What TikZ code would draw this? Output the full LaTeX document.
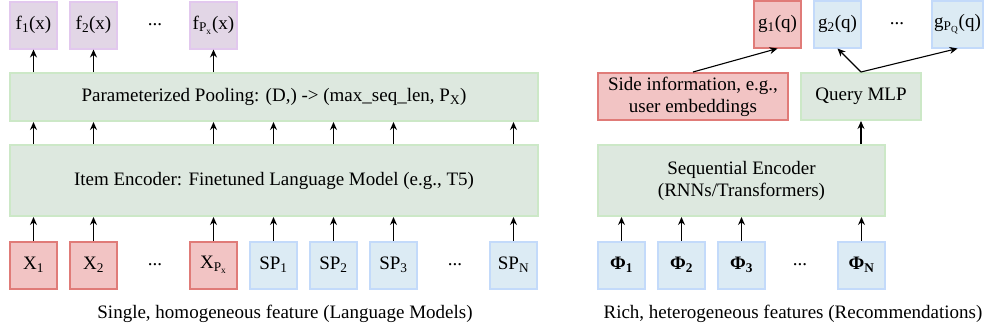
\documentclass[tikz,border=0pt]{standalone}
\usepackage{fontspec}
\setmainfont{Liberation Serif}
\usetikzlibrary{arrows.meta}

\definecolor{redfill}{HTML}{F2C4C4}
\definecolor{reddraw}{HTML}{E07B78}
\definecolor{bluefill}{HTML}{DCEBF4}
\definecolor{bluedraw}{HTML}{C3DAFA}
\definecolor{greenfill}{HTML}{DDE8DF}
\definecolor{greendraw}{HTML}{CCE8C7}
\definecolor{purplefill}{HTML}{E2D6E6}
\definecolor{purpledraw}{HTML}{E2C8EE}

\tikzset{
    box/.style={draw, line width=2pt, inner sep=2pt, align=center, font=\fontsize{19}{22}\selectfont},
    sqbox/.style={box, minimum width=47pt, minimum height=47pt},
    redbox/.style={sqbox, draw=reddraw, fill=redfill},
    bluebox/.style={sqbox, draw=bluedraw, fill=bluefill},
    purplebox/.style={sqbox, draw=purpledraw, fill=purplefill},
    greenbox/.style={box, draw=greendraw, fill=greenfill},
    arr/.style={-{Stealth[length=8pt,width=7pt]}, line width=1.1pt},
    dots/.style={font=\fontsize{19}{22}\selectfont},
    caption/.style={font=\fontsize{19}{22}\selectfont}
}

\begin{document}
\begin{tikzpicture}[x=1pt,y=-1pt]
    \useasboundingbox (0,0) rectangle (987,333);
    % left: language models
    \node[redbox] (x1) at (33.5,265) {X\textsubscript{1}};
    \node[redbox] (x2) at (93.5,265) {X\textsubscript{2}};
    \node[dots] at (155,265) {...};
    \node[redbox] (xp) at (213.5,265) {X\textsubscript{P\textsubscript{x}}};
    \node[bluebox] (sp1) at (273.5,265) {SP\textsubscript{1}};
    \node[bluebox] (sp2) at (333.5,265) {SP\textsubscript{2}};
    \node[bluebox] (sp3) at (393.5,265) {SP\textsubscript{3}};
    \node[dots] at (455,265) {...};
    \node[bluebox] (spn) at (513.5,265) {SP\textsubscript{N}};

    \node[greenbox, minimum width=528pt, minimum height=71pt] (enc) at (274,180.5)
        {Item Encoder: Finetuned Language Model (e.g., T5)};
    \node[greenbox, minimum width=528pt, minimum height=48pt] (pool) at (274,97)
        {Parameterized Pooling: (D,) -> (max\_seq\_len, P\textsubscript{X})};

    \node[purplebox] (f1) at (33.5,25) {f\textsubscript{1}(x)};
    \node[purplebox] (f2) at (93.5,25) {f\textsubscript{2}(x)};
    \node[dots] at (155,25) {...};
    \node[purplebox] (fp) at (213.5,25) {f\textsubscript{P\textsubscript{x}}(x)};

    \foreach \n in {x1,x2,xp,sp1,sp2,sp3,spn}{
        \draw[arr] (\n.north) -- (enc.south -| \n.north);
        \draw[arr] (enc.north -| \n.north) -- (pool.south -| \n.north);
    }
    \foreach \n in {f1,f2,fp}
        \draw[arr] (pool.north -| \n.south) -- (\n.south);

    \node[caption] (capl) at (285,314) {Single, homogeneous feature (Language Models)};

    % right: recommendations
    \node[bluebox] (p1) at (621.5,265) {\textbf{Φ\textsubscript{1}}};
    \node[bluebox] (p2) at (681.5,265) {\textbf{Φ\textsubscript{2}}};
    \node[bluebox] (p3) at (741.5,265) {\textbf{Φ\textsubscript{3}}};
    \node[dots] at (800,265) {...};
    \node[bluebox] (pn) at (861.5,265) {\textbf{Φ\textsubscript{N}}};

    \node[greenbox, minimum width=287pt, minimum height=71pt] (seq) at (741.5,180.5)
        {Sequential Encoder\\(RNNs/Transformers)};
    \node[greenbox, minimum width=120pt, minimum height=47pt] (mlp) at (861,96.5) {Query MLP};
    \node[box, draw=reddraw, fill=redfill, minimum width=190pt, minimum height=47pt] (side) at (693,96.5)
        {Side information, e.g.,\\user embeddings};

    \node[redbox] (g1) at (777.5,24) {g\textsubscript{1}(q)};
    \node[bluebox] (g2) at (837.5,24) {g\textsubscript{2}(q)};
    \node[dots] at (897,24) {...};
    \node[bluebox] (gp) at (957.5,24) {g\textsubscript{P\textsubscript{Q}}(q)};

    \foreach \n in {p1,p2,p3,pn}
        \draw[arr] (\n.north) -- (seq.south -| \n.north);
    \draw[arr] (seq.north -| mlp.north) -- (mlp.south);
    \draw[arr] (side.north) -- (g1.south);
    \draw[arr] (mlp.north) -- (g2.south);
    \draw[arr] (mlp.north) -- (gp.south);

    \node[caption] (capr) at (793,314) {Rich, heterogeneous features (Recommendations)};
\end{tikzpicture}
\end{document}
